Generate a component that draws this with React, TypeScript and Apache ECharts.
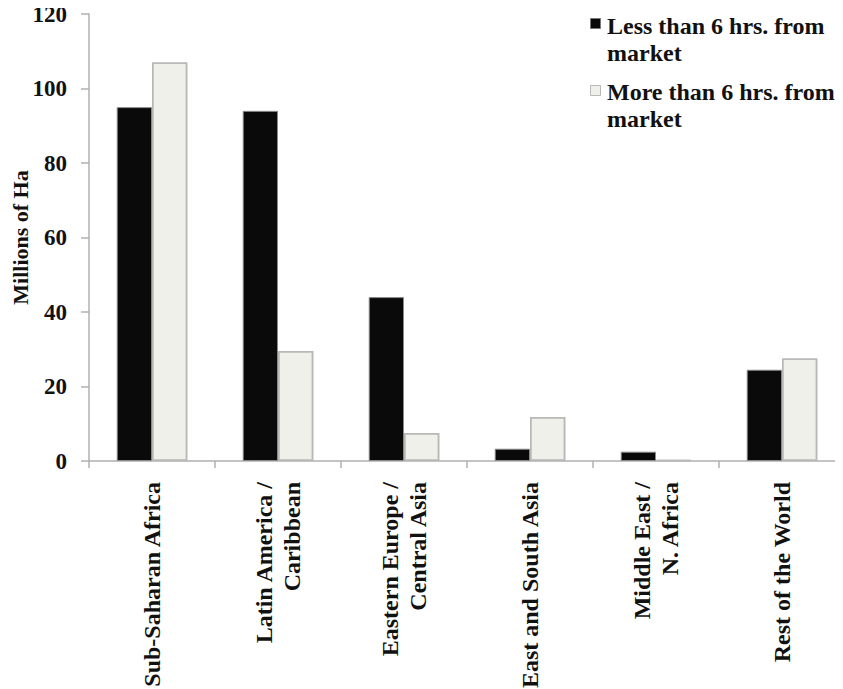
import React, { useEffect, useRef } from "react";
import * as echarts from "echarts";

const categories = [
  "Sub-Saharan Africa",
  "Latin America /\nCaribbean",
  "Eastern Europe /\nCentral Asia",
  "East and South Asia",
  "Middle East /\nN. Africa",
  "Rest of the World",
];
const lessThan6 = [95, 94, 44, 3.3, 2.5, 24.5];
const moreThan6 = [107, 29.5, 7.5, 11.8, 0.3, 27.5];
const seriesNames = ["Less than 6 hrs. from\nmarket", "More than 6 hrs. from\nmarket"];

const FONT = "'Liberation Serif', 'Times New Roman', serif";
const DARK = "#0a0a0a";
const LIGHT = "#f0f0eb";

export default function App() {
  const ref = useRef<HTMLDivElement>(null);
  useEffect(() => {
    if (!ref.current) return;
    const chart = echarts.init(ref.current, undefined, { renderer: "svg" });
    const legendText = (y: number, text: string) => ({
      type: "text",
      left: 607,
      top: y,
      style: {
        text,
        font: `bold 24px ${FONT}`,
        fill: "#111",
        lineHeight: 27,
      },
    });
    chart.setOption({
      animation: false,
      backgroundColor: "#ffffff",
      textStyle: { fontFamily: FONT },
      grid: { left: 89, right: -2, top: 14, bottom: 228, containLabel: false, outerBoundsMode: "none" },
      legend: { show: false },
      graphic: [
        { type: "rect", left: 590, top: 18, shape: { width: 10, height: 10 }, style: { fill: DARK, stroke: "#777", lineWidth: 1 } },
        legendText(12, seriesNames[0]),
        { type: "rect", left: 590, top: 85, shape: { width: 10, height: 10 }, style: { fill: LIGHT, stroke: "#b8b8b8", lineWidth: 1 } },
        legendText(78, seriesNames[1]),
      ],
      xAxis: {
        type: "category",
        data: categories,
        axisLine: { show: true, lineStyle: { color: "#b0b0b0", width: 1.5 } },
        axisTick: { show: true, alignWithLabel: false, length: 7, lineStyle: { color: "#b0b0b0", width: 1.5 } },
        axisLabel: {
          interval: 0,
          rotate: 90,
          margin: 21,
          fontFamily: FONT,
          fontWeight: "bold",
          fontSize: 24,
          color: "#111",
          lineHeight: 28,
        },
      },
      yAxis: {
        type: "value",
        min: 0,
        max: 120,
        interval: 20,
        name: "Millions of Ha",
        nameLocation: "middle",
        nameGap: 58,
        nameMoveOverlap: false,
        nameTextStyle: { fontFamily: FONT, fontWeight: "bold", fontSize: 22, color: "#111" },
        axisLine: { show: true, lineStyle: { color: "#b0b0b0", width: 1.5 } },
        axisTick: { show: true, inside: false, length: 8, lineStyle: { color: "#b0b0b0", width: 1.5 } },
        splitLine: { show: false },
        axisLabel: {
          margin: 22,
          fontFamily: FONT,
          fontWeight: "bold",
          fontSize: 23,
          color: "#111",
        },
      },
      series: [
        {
          name: seriesNames[0],
          type: "bar",
          data: lessThan6,
          barGap: "0%",
          barCategoryGap: "44%",
          itemStyle: { color: DARK, borderColor: "#8a8a8a", borderWidth: 1 },
        },
        {
          name: seriesNames[1],
          type: "bar",
          data: moreThan6,
          itemStyle: {
            color: LIGHT,
            borderColor: "#b8b8b8",
            borderWidth: 1.5,
            decal: {
              symbol: "circle",
              symbolSize: 0.5,
              color: "rgba(170,170,160,0.35)",
              dashArrayX: [2, 3],
              dashArrayY: [2, 3],
              rotation: 0.7,
            },
          },
        },
      ],
    });
    return () => chart.dispose();
  }, []);
  return <div ref={ref} style={{ width: 843, height: 689, marginLeft: -8, marginTop: -8 }} />;
}
